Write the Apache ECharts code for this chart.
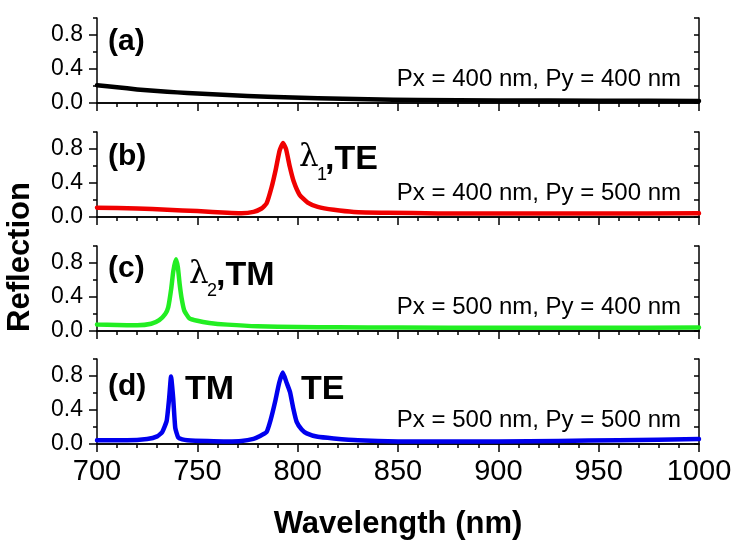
<!DOCTYPE html>
<html>
<head>
<meta charset="utf-8">
<script src="https://cdn.jsdelivr.net/npm/echarts@6/dist/echarts.min.js"></script>
<style>
html,body{margin:0;padding:0;background:#fff;}
#chart{width:738px;height:547px;}
</style>
</head>
<body>
<div id="chart"></div>
<script>
// ---- Data ----
var xTicks = [700, 750, 800, 850, 900, 950, 1000];
var yTickLabels = ['0.0', '0.4', '0.8'];

var wlA = [700, 710, 720, 730, 740, 750, 765, 785, 810, 835, 860, 900, 950, 1000];
var rA  = [0.21, 0.185, 0.16, 0.14, 0.125, 0.113, 0.095, 0.073, 0.055, 0.043, 0.035, 0.03, 0.027, 0.025];

var wlB = [700, 720, 735, 750, 765, 772, 778, 782, 784.5, 787, 789, 791, 792.7, 794.2, 796, 798, 801, 805, 810, 818, 828, 845, 870, 900, 950, 1000];
var rB  = [0.11, 0.10, 0.085, 0.07, 0.05, 0.045, 0.06, 0.10, 0.16, 0.35, 0.55, 0.78, 0.87, 0.80, 0.60, 0.42, 0.26, 0.17, 0.12, 0.085, 0.06, 0.05, 0.042, 0.04, 0.04, 0.043];

var wlC = [700, 710, 720, 727, 731, 734, 735.5, 737, 738, 739.3, 740.3, 741.2, 742.2, 743.5, 746, 750, 756, 765, 780, 800, 820, 850, 900, 950, 1000];
var rC  = [0.075, 0.07, 0.068, 0.085, 0.128, 0.2, 0.28, 0.5, 0.7, 0.845, 0.75, 0.55, 0.38, 0.24, 0.15, 0.12, 0.095, 0.075, 0.055, 0.048, 0.043, 0.04, 0.038, 0.038, 0.04];

var wlD = [700, 715, 725, 730, 732.5, 734.7, 736, 736.9, 738, 739, 740.5, 742.5, 745, 755, 765, 772, 778, 781, 784.5, 786.5, 788.7, 790.8, 792.6, 794.5, 796.2, 797.8, 799.5, 802, 804.5, 810, 818, 830, 850, 880, 900, 930, 960, 1000];
var rD  = [0.045, 0.045, 0.06, 0.09, 0.14, 0.27, 0.55, 0.795, 0.53, 0.19, 0.075, 0.055, 0.045, 0.035, 0.03, 0.035, 0.06, 0.09, 0.14, 0.28, 0.49, 0.72, 0.84, 0.72, 0.61, 0.42, 0.26, 0.17, 0.125, 0.085, 0.066, 0.045, 0.03, 0.028, 0.03, 0.035, 0.045, 0.058];

var panelLabels = ['(a)', '(b)', '(c)', '(d)'];
var periodLabels = ['Px = 400 nm, Py = 400 nm', 'Px = 400 nm, Py = 500 nm', 'Px = 500 nm, Py = 400 nm', 'Px = 500 nm, Py = 500 nm'];
var seriesColors = ['#000000', '#f00000', '#22ee22', '#0000ee'];
var seriesX = [wlA, wlB, wlC, wlD];
var seriesY = [rA, rB, rC, rD];

// ---- Layout ----
var FONT = 'Liberation Sans, Arial, sans-serif';
var gridTops = [18, 132, 246, 359];
var gridH = 85;
var gridLeft = 97, gridRight = 39;

var grids = [], xAxes = [], yAxes = [], series = [];
for (var i = 0; i < 4; i++) {
  grids.push({left: gridLeft, right: gridRight, top: gridTops[i], height: gridH, containLabel: false});
  var axLine = {show: true, lineStyle: {color: '#000', width: 1.5}};
  // bottom x axis
  xAxes.push({
    type: 'value', gridIndex: i, position: 'bottom', min: 700, max: 1000, interval: 50,
    axisLine: axLine,
    axisTick: {show: true, inside: false, length: 8, lineStyle: {color: '#000', width: 1.5}},
    minorTick: {show: true, splitNumber: 5, length: 4, lineStyle: {color: '#000', width: 1.5}},
    splitLine: {show: false}, minorSplitLine: {show: false},
    axisLabel: {show: i === 3, color: '#000', fontSize: 29, fontFamily: FONT, margin: 13,
      formatter: function (v) { return xTicks.indexOf(v) >= 0 ? String(v) : ''; }}
  });
  // top x axis (mirror)
  xAxes.push({
    type: 'value', gridIndex: i, position: 'top', min: 700, max: 1000, interval: 50,
    axisLine: axLine,
    axisTick: {show: true, inside: true, length: 7, lineStyle: {color: '#000', width: 1.5}},
    minorTick: {show: true, splitNumber: 5, length: 3.5, lineStyle: {color: '#000', width: 1.5}},
    splitLine: {show: false}, axisLabel: {show: false}
  });
  // left y axis: major ticks + labels
  yAxes.push({
    type: 'value', gridIndex: i, position: 'left', min: 0, max: 1.0, interval: 0.4,
    axisLine: axLine,
    axisTick: {show: true, inside: false, length: 8, lineStyle: {color: '#000', width: 1.5}},
    splitLine: {show: false},
    axisLabel: {show: true, color: '#000', fontSize: 23, fontFamily: FONT, margin: 14, showMaxLabel: false,
      formatter: function (v) { var k = Math.round(v / 0.4); return (Math.abs(v - k * 0.4) < 1e-6 && k < yTickLabels.length) ? yTickLabels[k] : ''; }}
  });
  // left y axis: minor ticks
  yAxes.push({
    type: 'value', gridIndex: i, position: 'left', min: 0, max: 1.0, interval: 0.2,
    axisLine: {show: false},
    axisTick: {show: true, inside: false, length: 4, lineStyle: {color: '#000', width: 1.5}},
    splitLine: {show: false}, axisLabel: {show: false}
  });
  // right y axis (mirror)
  yAxes.push({
    type: 'value', gridIndex: i, position: 'right', min: 0, max: 1.0, interval: 0.2,
    axisLine: axLine,
    axisTick: {show: true, inside: true, length: 5, lineStyle: {color: '#000', width: 1.5}},
    splitLine: {show: false}, axisLabel: {show: false}
  });
  var pts = [];
  for (var j = 0; j < seriesX[i].length; j++) pts.push([seriesX[i][j], seriesY[i][j]]);
  series.push({
    type: 'line', xAxisIndex: i * 2, yAxisIndex: i * 3, data: pts,
    showSymbol: false, symbol: 'none', smooth: 0.15,
    lineStyle: {color: seriesColors[i], width: 4.5, join: 'round', cap: 'round'},
    clip: true, silent: true, animation: false
  });
}

// ---- Annotations ----
var g = [];
function txt(s, x, y, size, bold, align, family) {
  g.push({type: 'text', x: x, y: y, silent: true, style: {
    text: s, fill: '#000', font: (bold ? 'bold ' : '') + size + 'px ' + (family || FONT),
    textAlign: align || 'left', textVerticalAlign: 'middle'}});
}
var panelLabelY = [42, 157, 269, 387];
for (var i = 0; i < 4; i++) {
  txt(panelLabels[i], 108, panelLabelY[i], 30, true, 'left');
  txt(periodLabels[i], 681, gridTops[i] + gridH - 24, 24, false, 'right');
}
// (b) lambda1, TE
txt('λ', 299, 158, 31, false, 'left', 'DejaVu Serif, serif');
txt('1', 317, 175, 18, false, 'left');
txt(',TE', 325, 160, 34, true, 'left');
// (c) lambda2, TM
txt('λ', 189, 275, 31, false, 'left', 'DejaVu Serif, serif');
txt('2', 207, 291, 18, false, 'left');
txt(',TM', 216, 276, 34, true, 'left');
// (d) TM, TE
txt('TM', 185, 390, 34, true, 'left');
txt('TE', 301, 390, 34, true, 'left');
// axis titles
g.push({type: 'text', x: 20, y: 257, rotation: Math.PI / 2, silent: true, style: {
  text: 'Reflection', fill: '#000', font: 'bold 31px ' + FONT, textAlign: 'center', textVerticalAlign: 'middle'}});
txt('Wavelength (nm)', 398, 524, 31, true, 'center');

var chart = echarts.init(document.getElementById('chart'), null, {renderer: 'canvas'});
chart.setOption({
  backgroundColor: '#fff',
  animation: false,
  grid: grids, xAxis: xAxes, yAxis: yAxes, series: series, graphic: g
});
</script>
</body>
</html>
